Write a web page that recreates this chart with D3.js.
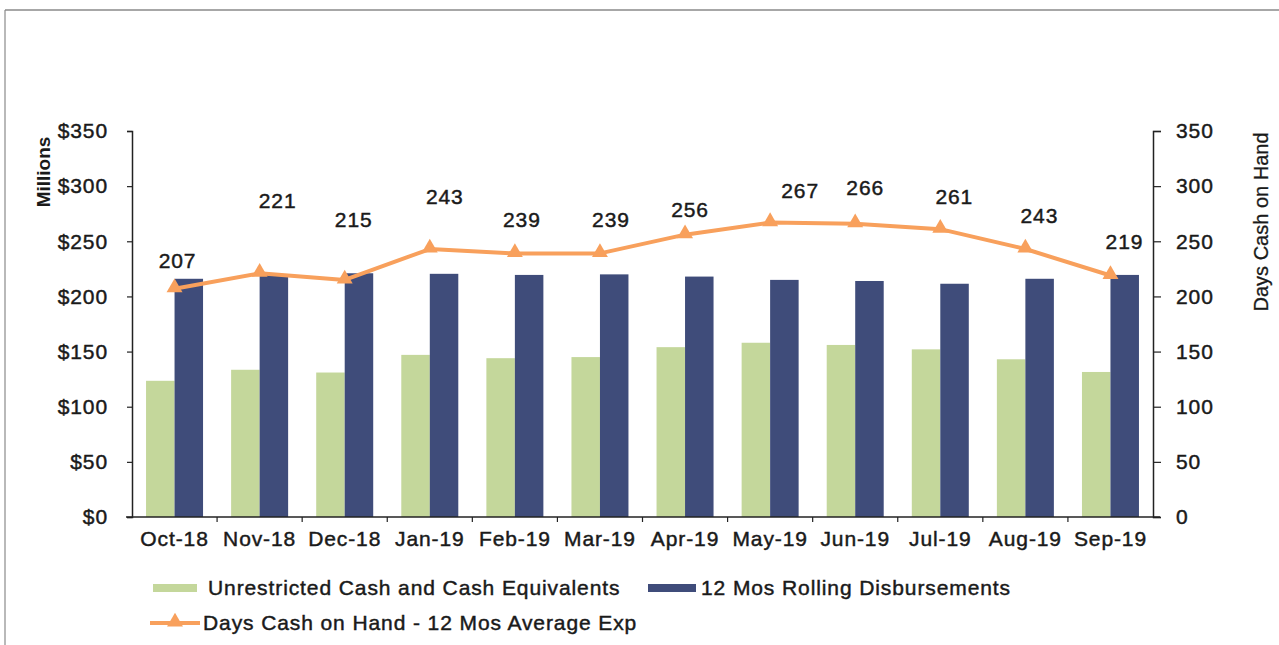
<!DOCTYPE html>
<html>
<head>
<meta charset="utf-8">
<script src="https://cdn.jsdelivr.net/npm/d3@7"></script>
<style>
  body { margin: 0; background: #fff; }
  svg text { font-family: "Liberation Sans", Arial, sans-serif; fill: #1a1a1a; }
  .lbl { font-size: 21px; letter-spacing: 0.9px; stroke: #1a1a1a; stroke-width: 0.45px; }
</style>
</head>
<body>
<svg id="chart" width="1279" height="645"></svg>
<script>
// chart data
const months = ["Oct-18", "Nov-18", "Dec-18", "Jan-19", "Feb-19", "Mar-19",
                "Apr-19", "May-19", "Jun-19", "Jul-19", "Aug-19", "Sep-19"];
const unrestrictedCash = [123.5, 133.5, 131, 147, 144, 145, 154, 158, 156, 152, 143, 131.5];
const rollingDisbursements = [216, 219.5, 221, 220.5, 219.5, 220, 218, 215, 214, 211.5, 216, 219.5];
const daysCashOnHand = [207, 221, 215, 243, 239, 239, 256, 267, 266, 261, 243, 219];
const leftTicks = [0, 50, 100, 150, 200, 250, 300, 350];
const rightTicks = [0, 50, 100, 150, 200, 250, 300, 350];

// manual nudges for the data labels (dx, dy in px from the marker), as placed in the original
const labelNudge = [[3, -28], [18, -73], [9, -60], [15, -52], [7, -34], [11, -34],
                    [5, -25], [30, -32], [10, -36], [14, -33], [14, -33], [14, -34]];

const green = "#C4D79B";
const navy = "#3F4C7A";
const orange = "#F8A05C";

const svg = d3.select("#chart");

// frame of the scanned chart box
svg.append("line").attr("x1", 5).attr("x2", 1279).attr("y1", 10).attr("y2", 10)
    .attr("stroke", "#8a8a8a").attr("stroke-width", 1.5);
svg.append("line").attr("x1", 5).attr("x2", 5).attr("y1", 10).attr("y2", 645)
    .attr("stroke", "#8a8a8a").attr("stroke-width", 1.2);

const x = d3.scaleBand()
    .domain(months)
    .range([132, 1153])
    .paddingInner(0.33)
    .paddingOuter(0.165);
const xSeries = d3.scaleBand()
    .domain(["cash", "disb"])
    .range([0, x.bandwidth()]);
const yLeft = d3.scaleLinear().domain([0, 350]).range([517, 131]);
const yRight = d3.scaleLinear().domain([0, 350]).range([517, 131]);

// bars
const groups = svg.append("g").selectAll("g")
    .data(months)
    .join("g")
    .attr("transform", d => `translate(${x(d)},0)`);
groups.append("rect")
    .attr("x", xSeries("cash"))
    .attr("width", xSeries.bandwidth())
    .attr("y", (_, i) => yLeft(unrestrictedCash[i]))
    .attr("height", (_, i) => yLeft(0) - yLeft(unrestrictedCash[i]))
    .attr("fill", green);
groups.append("rect")
    .attr("x", xSeries("disb"))
    .attr("width", xSeries.bandwidth())
    .attr("y", (_, i) => yLeft(rollingDisbursements[i]))
    .attr("height", (_, i) => yLeft(0) - yLeft(rollingDisbursements[i]))
    .attr("fill", navy);

function styleAxis(g) {
    g.select(".domain").attr("stroke", "#222").attr("stroke-width", 1.5);
    g.selectAll(".tick line").attr("stroke", "#222").attr("stroke-width", 1.2);
    g.selectAll("text").attr("font-size", null).attr("font-family", null)
        .attr("fill", "#1a1a1a").classed("lbl", true);
}

// left axis
svg.append("g")
    .attr("transform", "translate(132,0)")
    .call(d3.axisLeft(yLeft).tickValues(leftTicks).tickSize(5).tickPadding(19)
        .tickFormat(d => "$" + d))
    .call(styleAxis);

// right axis
svg.append("g")
    .attr("transform", "translate(1153,0)")
    .call(d3.axisRight(yRight).tickValues(rightTicks).tickSize(8).tickPadding(15))
    .call(styleAxis);

// bottom axis: labels at band centres, ticks between categories
const bottomAxis = svg.append("g")
    .attr("transform", `translate(0,${yLeft(0)})`)
    .call(d3.axisBottom(x).tickSize(0).tickPadding(14))
    .call(styleAxis);
bottomAxis.select(".domain").remove();
svg.append("line")
    .attr("x1", 126).attr("x2", 1160)
    .attr("y1", yLeft(0)).attr("y2", yLeft(0))
    .attr("stroke", "#222").attr("stroke-width", 1.5);
const gap = x.step() - x.bandwidth();
svg.append("g").selectAll("line")
    .data(months.slice(1))
    .join("line")
    .attr("x1", d => x(d) - gap / 2)
    .attr("x2", d => x(d) - gap / 2)
    .attr("y1", yLeft(0))
    .attr("y2", yLeft(0) + 5)
    .attr("stroke", "#222").attr("stroke-width", 1.2);

// axis titles
svg.append("text")
    .attr("transform", "translate(50,172) rotate(-90)")
    .attr("text-anchor", "middle")
    .attr("font-size", 19).attr("font-weight", "bold")
    .text("Millions");
svg.append("text")
    .attr("transform", "translate(1268,222) rotate(-90)")
    .attr("text-anchor", "middle")
    .attr("font-size", 20)
    .attr("stroke", "#1a1a1a").attr("stroke-width", 0.3)
    .text("Days Cash on Hand");

// days cash line
const cx = m => x(m) + x.bandwidth() / 2;
const line = d3.line()
    .x((_, i) => cx(months[i]))
    .y(d => yRight(d));
svg.append("path")
    .datum(daysCashOnHand)
    .attr("d", line)
    .attr("fill", "none")
    .attr("stroke", orange)
    .attr("stroke-width", 4)
    .attr("stroke-linejoin", "round");
const tri = d3.symbol().type(d3.symbolTriangle).size(110);
svg.append("g").selectAll("path")
    .data(daysCashOnHand)
    .join("path")
    .attr("d", tri)
    .attr("transform", (d, i) => `translate(${cx(months[i])},${yRight(d) - 1})`)
    .attr("fill", orange);

// data labels
svg.append("g").selectAll("text")
    .data(daysCashOnHand)
    .join("text")
    .attr("class", "lbl")
    .attr("x", (d, i) => cx(months[i]) + labelNudge[i][0])
    .attr("y", (d, i) => yRight(d) + labelNudge[i][1])
    .attr("dy", "0.35em")
    .attr("text-anchor", "middle")
    .text(d => d);

// legend
const legend = svg.append("g");
legend.append("rect").attr("x", 153).attr("y", 584).attr("width", 44).attr("height", 8).attr("fill", green);
legend.append("text").attr("class", "lbl").attr("x", 208).attr("y", 588).attr("dy", "0.35em")
    .text("Unrestricted Cash and Cash Equivalents");
legend.append("rect").attr("x", 648).attr("y", 584).attr("width", 48).attr("height", 8).attr("fill", navy);
legend.append("text").attr("class", "lbl").attr("x", 701).attr("y", 588).attr("dy", "0.35em")
    .text("12 Mos Rolling Disbursements");
legend.append("line").attr("x1", 150).attr("x2", 200).attr("y1", 623).attr("y2", 623)
    .attr("stroke", orange).attr("stroke-width", 4);
legend.append("path").attr("d", tri).attr("transform", "translate(175,622)").attr("fill", orange);
legend.append("text").attr("class", "lbl").attr("x", 203).attr("y", 623).attr("dy", "0.35em")
    .text("Days Cash on Hand - 12 Mos Average Exp");
</script>
</body>
</html>
